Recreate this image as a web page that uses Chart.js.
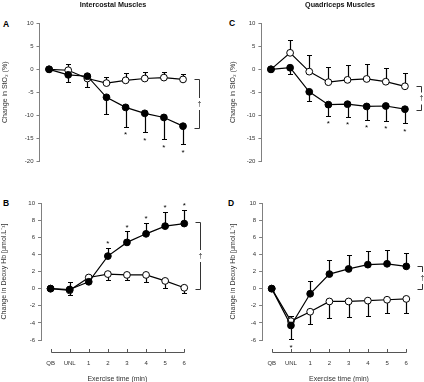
<!DOCTYPE html>
<html>
<head>
<meta charset="utf-8">
<script src="https://cdn.jsdelivr.net/npm/chart.js@4.4.1/dist/chart.umd.min.js"></script>
<style>
  html, body { margin: 0; padding: 0; background: #fff; }
  body { width: 424px; height: 382px; position: relative; overflow: hidden;
         font-family: "Liberation Sans", Arial, sans-serif; }
  .pane { position: absolute; }
  .lbl { position: absolute; font-weight: bold; font-size: 8.5px; line-height: 10px; color: #000; }
</style>
</head>
<body>
<div class="lbl" style="left:3px;top:19px">A</div>
<div class="lbl" style="left:229px;top:18px">C</div>
<div class="lbl" style="left:3px;top:198px">B</div>
<div class="lbl" style="left:228px;top:198px">D</div>

<div class="pane" style="left:0;top:0;width:212px;height:191px"><canvas id="chartA"></canvas></div>
<div class="pane" style="left:212px;top:0;width:212px;height:191px"><canvas id="chartC"></canvas></div>
<div class="pane" style="left:0;top:191px;width:212px;height:195px"><canvas id="chartB"></canvas></div>
<div class="pane" style="left:212px;top:191px;width:212px;height:195px"><canvas id="chartD"></canvas></div>

<script>
// ── Données ────────────────────────────────────────────────────────────────
const CATEGORIES = ['QB', 'UNL', '1', '2', '3', '4', '5', '6'];

// err : signé, >0 barre vers le haut, <0 vers le bas
// A — StO2 intercostaux
const stoIcFilled   = [0, -1.2, -1.5, -6.1, -8.3, -9.6, -10.5, -12.4];
const stoIcFilledSd = [0, -1.6, -2.3, -3.7, -4.2, -4.1, -4.8, -3.9];
const stoIcOpen     = [0, -0.2, -2.0, -3.0, -2.4, -2.0, -1.8, -2.2];
const stoIcOpenSd   = [0, 1.3, 1.2, 1.4, 1.5, 1.4, 1.3, 1.1];
const stoIcStars    = [0, 0, 0, 0, 1, 1, 1, 1];
const stoIcBracket  = [-2.0, -12.8];

// C — StO2 quadriceps
const stoQuadFilled   = [0, 0.35, -4.9, -7.7, -7.6, -8.1, -8.0, -8.7];
const stoQuadFilledSd = [0, -1.35, -2.1, -2.4, -2.7, -2.9, -3.2, -3.0];
const stoQuadOpen     = [0, 3.6, -0.5, -2.8, -2.3, -2.1, -2.7, -3.7];
const stoQuadOpenSd   = [0, 2.9, 3.7, 3.3, 3.2, 3.2, 3.0, 2.9];
const stoQuadStars    = [0, 0, 0, 1, 1, 1, 1, 1];
const stoQuadBracket  = [-3.7, -8.8];

// B — Deoxy Hb intercostaux
const hbIcFilled   = [0, -0.1, 0.8, 3.8, 5.4, 6.4, 7.3, 7.6];
const hbIcFilledSd = [0, 0.9, 0.7, 1.0, 1.3, 1.3, 1.7, 1.6];
const hbIcOpen     = [0, -0.2, 1.3, 1.7, 1.6, 1.6, 0.9, 0.1];
const hbIcOpenSd   = [0, -0.6, -0.4, -0.7, -0.6, -0.8, -0.8, -0.6];
const hbIcStars    = [0, 0, 0, 1, 1, 1, 1, 1];
const hbIcBracket  = [7.8, 0];

// D — Deoxy Hb quadriceps
const hbQuadFilled   = [0, -4.3, -0.6, 1.7, 2.3, 2.8, 2.9, 2.6];
const hbQuadFilledSd = [0, -1.6, 1.5, 1.7, 1.6, 1.6, 1.6, 1.6];
const hbQuadOpen     = [0, -3.8, -2.7, -1.5, -1.5, -1.4, -1.3, -1.2];
const hbQuadOpenSd   = [0, 0.6, -1.4, -1.9, -1.8, -1.8, -1.6, -1.7];
const hbQuadStars    = [0, 1, 0, 0, 0, 0, 0, 0];
const hbQuadBracket  = [2.6, -0.1];

const STO_TICKS = { min: -20, max: 10, step: 5 };
const HB_TICKS  = { min: -6, max: 10, step: 2 };

// ── Style ──────────────────────────────────────────────────────────────────
const FONT   = '"Liberation Sans", Arial, sans-serif';
const AXIS   = '#808080';
const INK    = '#000';
const TXT    = '#333';

Chart.defaults.font.family = FONT;

// barres d'erreur, étoiles, accolade †, axe x détaché, en-tête de colonne
const extras = {
  id: 'extras',
  beforeDatasetsDraw(chart) {
    const { ctx, scales: { x, y } } = chart;
    ctx.save();
    ctx.strokeStyle = INK;
    ctx.lineWidth = 1.2;
    chart.data.datasets.forEach(ds => {
      ds.data.forEach((v, i) => {
        const e = ds.err[i];
        if (!e) return;
        const px = Math.round(x.getPixelForValue(i)) + 0.5;
        const y0 = y.getPixelForValue(v);
        const y1 = Math.round(y.getPixelForValue(v + e)) + 0.5;
        ctx.beginPath();
        ctx.moveTo(px, y0); ctx.lineTo(px, y1);
        ctx.moveTo(px - 2.5, y1); ctx.lineTo(px + 2.5, y1);
        ctx.stroke();
      });
    });
    ctx.restore();
  },
  afterDraw(chart, args, opts) {
    const { ctx, scales: { x, y }, chartArea } = chart;
    const last = CATEGORIES.length - 1;
    ctx.save();

    // titre de colonne
    if (opts.header) {
      ctx.fillStyle = '#111';
      ctx.font = 'bold 7.2px ' + FONT;
      ctx.textAlign = 'center';
      ctx.textBaseline = 'middle';
      ctx.fillText(opts.header, opts.headerX, 5);
    }

    // étoiles
    ctx.fillStyle = INK;
    ctx.font = '8px ' + FONT;
    ctx.textAlign = 'center';
    ctx.textBaseline = 'alphabetic';
    chart.data.datasets.forEach(ds => {
      if (!ds.stars) return;
      ds.stars.forEach((s, i) => {
        if (!s) return;
        const tip = ds.data[i] + ds.err[i];
        const dir = ds.err[i] < 0 ? 1 : -1;
        const cy = y.getPixelForValue(tip) + dir * 6;
        ctx.fillText('*', x.getPixelForValue(i), cy + 4.6);
      });
    });

    // accolade de significativité
    const [a, b] = opts.bracket;
    const bx = Math.round(x.getPixelForValue(last)) + 16.5;
    const ya = Math.round(y.getPixelForValue(a)) + 0.5;
    const yb = Math.round(y.getPixelForValue(b)) + 0.5;
    const mid = (ya + yb) / 2, gap = 6;
    ctx.strokeStyle = '#333';
    ctx.lineWidth = 1;
    ctx.beginPath();
    ctx.moveTo(bx - 5, ya); ctx.lineTo(bx, ya); ctx.lineTo(bx, mid - gap);
    ctx.moveTo(bx, mid + gap); ctx.lineTo(bx, yb); ctx.lineTo(bx - 5, yb);
    ctx.stroke();
    ctx.fillStyle = '#222';
    ctx.font = '7px ' + FONT;
    ctx.textBaseline = 'middle';
    ctx.fillText('†', bx, mid);

    // axe x décalé sous le graphe
    if (opts.xLine) {
      const yl = Math.round(chartArea.bottom + 12) + 0.5;
      ctx.strokeStyle = '#555';
      ctx.beginPath();
      ctx.moveTo(Math.round(x.getPixelForValue(0)) + 0.5, yl);
      ctx.lineTo(Math.round(x.getPixelForValue(last)) + 0.5, yl);
      CATEGORIES.forEach((_, i) => {
        const px = Math.round(x.getPixelForValue(i)) + 0.5;
        ctx.moveTo(px, yl); ctx.lineTo(px, yl - 3.5);
      });
      ctx.stroke();
    }
    ctx.restore();
  },
};

function series(data, err, stars, fill) {
  return {
    data, err, stars,
    borderColor: INK, borderWidth: 1.2, tension: 0,
    pointRadius: 3.4, pointHoverRadius: 3.4, pointBorderWidth: 1,
    pointBorderColor: INK, pointBackgroundColor: fill,
  };
}

function makePanel(id, p) {
  new Chart(document.getElementById(id), {
    type: 'line',
    data: {
      labels: CATEGORIES,
      datasets: [
        series(p.filled, p.filledSd, p.stars, INK),
        series(p.open, p.openSd, null, '#fff'),
      ],
    },
    options: {
      responsive: true, maintainAspectRatio: false, animation: false,
      layout: { padding: { top: p.top, right: p.right, bottom: p.bottom, left: 0 } },
      plugins: {
        legend: { display: false },
        tooltip: { enabled: false },
        extras: { bracket: p.bracket, xLine: p.showX, header: p.header, headerX: p.headerX },
      },
      scales: {
        x: {
          display: p.showX, offset: true,
          grid: { display: false }, border: { display: false },
          ticks: { font: { size: 6 }, color: TXT, padding: 12, maxRotation: 0, autoSkip: false },
          title: { display: true, text: 'Exercise time (min)', color: TXT,
                   font: { size: 7 }, padding: { top: 0, bottom: 2.8 } },
          afterFit: s => { if (p.showX) s.height = 46; },
        },
        y: {
          min: p.range.min, max: p.range.max,
          ticks: { stepSize: p.range.step, font: { size: 6 }, color: TXT, padding: 3 },
          grid: { drawOnChartArea: false, tickLength: 3, color: AXIS },
          border: { color: AXIS },
          title: { display: true, text: p.yTitle, color: TXT,
                   font: { size: 7 }, padding: { top: p.titlePad, bottom: 0 } },
          afterFit: s => { s.width = p.left; },
        },
      },
    },
    plugins: [extras],
  });
}

const STO_TITLE = 'Change in StO₂ (%)';
const HB_TITLE  = 'Change in Deoxy Hb [μmol.L⁻¹]';

makePanel('chartA', {
  filled: stoIcFilled, filledSd: stoIcFilledSd, open: stoIcOpen, openSd: stoIcOpenSd,
  stars: stoIcStars, bracket: stoIcBracket, range: STO_TICKS, yTitle: STO_TITLE,
  header: 'Intercostal Muscles', headerX: 113,
  showX: false, top: 23.5, bottom: 30, left: 39.5, right: 19.4, titlePad: 0.8,
});
makePanel('chartC', {
  filled: stoQuadFilled, filledSd: stoQuadFilledSd, open: stoQuadOpen, openSd: stoQuadOpenSd,
  stars: stoQuadStars, bracket: stoQuadBracket, range: STO_TICKS, yTitle: STO_TITLE,
  header: 'Quadriceps Muscles', headerX: 128,
  showX: false, top: 23.5, bottom: 30, left: 49.4, right: 9.5, titlePad: 16.8,
});
makePanel('chartB', {
  filled: hbIcFilled, filledSd: hbIcFilledSd, open: hbIcOpen, openSd: hbIcOpenSd,
  stars: hbIcStars, bracket: hbIcBracket, range: HB_TICKS, yTitle: HB_TITLE,
  showX: true, top: 12, bottom: 0, left: 41, right: 18.2, titlePad: 0,
});
makePanel('chartD', {
  filled: hbQuadFilled, filledSd: hbQuadFilledSd, open: hbQuadOpen, openSd: hbQuadOpenSd,
  stars: hbQuadStars, bracket: hbQuadBracket, range: HB_TICKS, yTitle: HB_TITLE,
  showX: true, top: 12, bottom: 0, left: 50.1, right: 8.1, titlePad: 17,
});
</script>
</body>
</html>
